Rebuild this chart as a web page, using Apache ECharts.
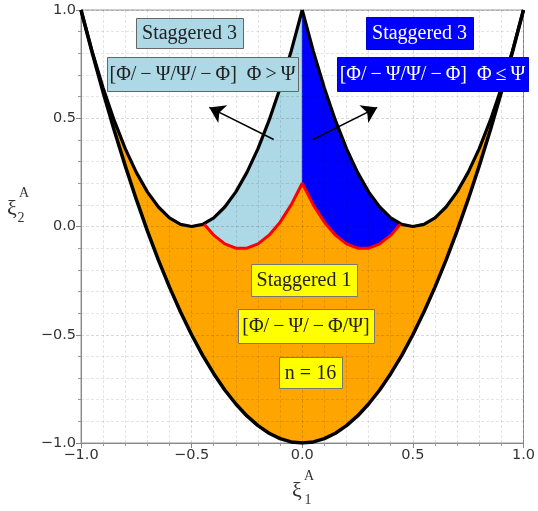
<!DOCTYPE html>
<html>
<head>
<meta charset="utf-8">
<script src="https://cdn.jsdelivr.net/npm/echarts@6/dist/echarts.min.js"></script>
<style>
  html, body { margin: 0; padding: 0; background: #fff; }
  #main { width: 538px; height: 511px; }
</style>
</head>
<body>
<div id="main"></div>
<script>
// outer boundary (bottom of the orange region)
const outerX = [-1.0, -0.95, -0.9, -0.85, -0.8, -0.75, -0.7, -0.65, -0.6, -0.55, -0.5, -0.45, -0.4, -0.35, -0.3, -0.25, -0.2, -0.15, -0.1, -0.05, 0,
  0.05, 0.1, 0.15, 0.2, 0.25, 0.3, 0.35, 0.4, 0.45, 0.5, 0.55, 0.6, 0.65, 0.7, 0.75, 0.8, 0.85, 0.9, 0.95, 1.0]
const outerY = [1.0, 0.805, 0.62, 0.445, 0.28, 0.125, -0.02, -0.155, -0.28, -0.395, -0.5, -0.595, -0.68, -0.755, -0.82, -0.875, -0.92, -0.955, -0.98, -0.995, -1.0,
  -0.995, -0.98, -0.955, -0.92, -0.875, -0.82, -0.755, -0.68, -0.595, -0.5, -0.395, -0.28, -0.155, -0.02, 0.125, 0.28, 0.445, 0.62, 0.805, 1.0]

// left and right inner boundaries
const leftX = [-1.0, -0.95, -0.9, -0.85, -0.8, -0.75, -0.7, -0.65, -0.6, -0.55, -0.5, -0.45, -0.4, -0.35, -0.3, -0.25, -0.2, -0.15, -0.1, -0.05, 0]
const leftY = [1.0, 0.81, 0.64, 0.49, 0.36, 0.25, 0.16, 0.09, 0.04, 0.01, 0, 0.01, 0.04, 0.09, 0.16, 0.25, 0.36, 0.49, 0.64, 0.81, 1.0]
const rightX = [0, 0.05, 0.1, 0.15, 0.2, 0.25, 0.3, 0.35, 0.4, 0.45, 0.5, 0.55, 0.6, 0.65, 0.7, 0.75, 0.8, 0.85, 0.9, 0.95, 1.0]
const rightY = [1.0, 0.81, 0.64, 0.49, 0.36, 0.25, 0.16, 0.09, 0.04, 0.01, 0, 0.01, 0.04, 0.09, 0.16, 0.25, 0.36, 0.49, 0.64, 0.81, 1.0]

// red boundary between staggered 1 and staggered 3
const redLeftX = [-0.443, -0.4, -0.35, -0.3, -0.25, -0.2, -0.15, -0.1, -0.05, 0]
const redLeftY = [0.01, -0.04, -0.08, -0.10, -0.10, -0.08, -0.04, 0.02, 0.10, 0.20]
const redRightX = [0, 0.05, 0.1, 0.15, 0.2, 0.25, 0.3, 0.35, 0.4, 0.443]
const redRightY = [0.20, 0.10, 0.02, -0.04, -0.08, -0.10, -0.10, -0.08, -0.04, 0.01]

// arrows [from, to]
const arrowLeft = [[-0.129, 0.402], [-0.42, 0.55]]
const arrowRight = [[0.049, 0.402], [0.339, 0.55]]

const pts = (xs, ys) => xs.map((x, i) => [x, ys[i]])
const outer = pts(outerX, outerY)
const left = pts(leftX, leftY)
const right = pts(rightX, rightY)
const redLeft = pts(redLeftX, redLeftY)
const redRight = pts(redRightX, redRightY)

// regions
const orangePoly = outer
  .concat(right.slice(9).reverse())
  .concat(redRight.slice().reverse())
  .concat(redLeft.slice(0, -1).reverse())
  .concat(left.slice(0, 12).reverse())
const lightBluePoly = redLeft.concat([left[20]]).concat(left.slice(11, 20).reverse())
const bluePoly = redRight.concat(right.slice(0, 10).reverse())
const regions = [
  {poly: orangePoly, color: '#FFA500'},
  {poly: lightBluePoly, color: '#ADD8E6'},
  {poly: bluePoly, color: '#0000FF'},
]

const fmt = v => (v < 0 ? '\u2212' : '') + Math.abs(v).toFixed(1)

const serif = '"Liberation Serif", "DejaVu Serif", serif'
const boxFont = '20px ' + serif
const boxes = [
  {r: [136, 18, 107, 30], text: 'Staggered 3', fill: '#ADD8E6', stroke: '#666', color: '#222'},
  {r: [107, 57, 191, 34], text: '[Φ/\u2009\u2212\u2009Ψ/Ψ/\u2009\u2212\u2009Φ]\u2002Φ\u2009>\u2009Ψ', fill: '#ADD8E6', stroke: '#666', color: '#222'},
  {r: [366, 17, 107, 32], text: 'Staggered 3', fill: '#0000FF', stroke: '#0000cc', color: '#fff'},
  {r: [337, 57, 191, 34], text: '[Φ/\u2009\u2212\u2009Ψ/Ψ/\u2009\u2212\u2009Φ]\u2002Φ\u2009≤\u2009Ψ', fill: '#0000FF', stroke: '#0000cc', color: '#fff'},
  {r: [251, 264, 106, 32], text: 'Staggered 1', fill: '#FFFF00', stroke: '#777', color: '#222'},
  {r: [238, 309, 136, 34], text: '[Φ/\u2009\u2212\u2009Ψ/\u2009\u2212\u2009Φ/Ψ]', fill: '#FFFF00', stroke: '#777', color: '#222'},
  {r: [279, 357, 63, 31], text: 'n = 16', fill: '#FFFF00', stroke: '#777', color: '#222'},
]

const graphic = []
boxes.forEach(b => {
  const [x, y, w, h] = b.r
  graphic.push({
    type: 'rect', z: 100,
    shape: {x: x + 0.5, y: y + 0.5, width: w, height: h},
    style: {fill: b.fill, stroke: b.stroke, lineWidth: 1}
  })
  graphic.push({
    type: 'text', z: 101, x: x + w / 2, y: y + h / 2 + 1,
    style: {text: b.text, font: boxFont, fill: b.color, align: 'center', verticalAlign: 'middle'}
  })
})
// axis names
const axisNames = [
  {t: 'ξ', x: 12, y: 209, s: 22},
  {t: 'A', x: 24, y: 193, s: 14},
  {t: '2', x: 21, y: 218, s: 14},
  {t: 'ξ', x: 297, y: 491, s: 22},
  {t: 'A', x: 309, y: 476, s: 14},
  {t: '1', x: 308, y: 500, s: 14},
]
axisNames.forEach(a => {
  graphic.push({
    type: 'text', z: 101, x: a.x, y: a.y,
    style: {text: a.t, font: a.s + 'px ' + serif, fill: '#333', align: 'center', verticalAlign: 'middle'}
  })
})

const axisCommon = {
  type: 'value', min: -1, max: 1, interval: 0.5, z: 3,
  axisLine: {show: true, onZero: false, lineStyle: {color: '#888', width: 1}},
  axisTick: {show: true, length: 5, lineStyle: {color: '#888'}},
  minorTick: {show: true, splitNumber: 5, length: 3, lineStyle: {color: '#999'}},
  splitLine: {show: true, lineStyle: {color: 'rgba(0,0,0,0.15)', width: 1, type: [3, 2]}},
  minorSplitLine: {show: true, lineStyle: {color: 'rgba(0,0,0,0.10)', width: 1, type: [3, 2]}},
  axisLabel: {formatter: fmt, color: '#333', fontSize: 14.5, fontFamily: 'DejaVu Sans', margin: 5},
}

const chart = echarts.init(document.getElementById('main'))
chart.setOption({
  animation: false,
  backgroundColor: '#fff',
  grid: {left: 81, right: 10, top: 10, bottom: 68, show: true, borderColor: '#999', borderWidth: 1, backgroundColor: 'transparent'},
  xAxis: Object.assign({}, axisCommon, {position: 'bottom'}),
  yAxis: Object.assign({}, axisCommon, {position: 'left'}),
  graphic: graphic,
  series: [
    {
      type: 'custom', z: 2, silent: true,
      data: regions.map(() => [0, 0]),
      encode: {x: 0, y: 1},
      renderItem(params, api) {
        const reg = regions[params.dataIndex]
        return {
          type: 'polygon',
          shape: {points: reg.poly.map(p => api.coord(p))},
          style: {fill: reg.color, stroke: reg.color, lineWidth: 0.6}
        }
      }
    },
    {type: 'line', z: 5, data: outer, showSymbol: false, lineStyle: {color: '#000', width: 3.5}},
    {type: 'line', z: 5, data: left, showSymbol: false, lineStyle: {color: '#000', width: 3.2}},
    {type: 'line', z: 5, data: right, showSymbol: false, lineStyle: {color: '#000', width: 3.2}},
    {type: 'line', z: 6, data: redLeft.concat(redRight.slice(1)), showSymbol: false, lineStyle: {color: '#FF0000', width: 3}},
    {
      type: 'lines', coordinateSystem: 'cartesian2d', z: 7,
      symbol: ['none', 'arrow'], symbolSize: 15,
      lineStyle: {color: '#000', width: 1.5, opacity: 1},
      data: [{coords: arrowLeft}, {coords: arrowRight}]
    }
  ]
})
</script>
</body>
</html>
